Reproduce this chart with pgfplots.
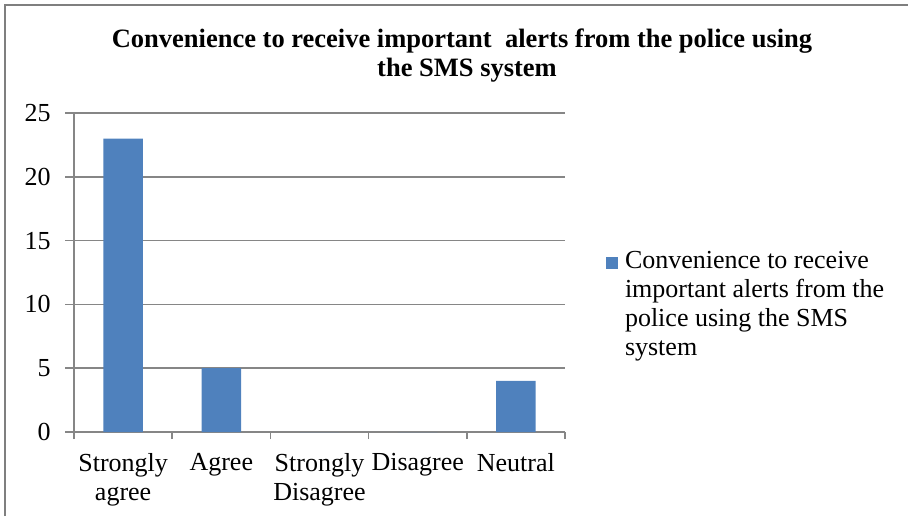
\documentclass[border=0pt]{standalone}
\usepackage{fontspec}
\setmainfont{Liberation Serif}
\usepackage{pgfplots}
\pgfplotsset{compat=1.18}
\definecolor{barblue}{HTML}{4F81BD}
\definecolor{gridgray}{HTML}{868686}
\definecolor{framegray}{HTML}{7F7F7F}
\begin{document}
\begin{tikzpicture}
\path[use as bounding box] (0pt,0pt) rectangle (454pt,-258pt);
\draw[framegray, line width=1pt] (2.5pt,-258pt) -- (2.5pt,-2.5pt) -- (454pt,-2.5pt);
\node[anchor=base, font=\fontsize{13.25pt}{14.5pt}\selectfont\bfseries, inner sep=0pt] at (231pt,-23.85pt) {Convenience to receive important\ \ alerts from the police using};
\node[anchor=base, font=\fontsize{13.25pt}{14.5pt}\selectfont\bfseries, inner sep=0pt] at (233.5pt,-38.3pt) {the SMS system};
\begin{axis}[
  at={(37pt,-216pt)}, anchor=south west,
  width=245.5pt, height=159.5pt, scale only axis,
  xmin=-0.5, xmax=4.5, ymin=0, ymax=25,
  axis lines*=left,
  axis line style={gridgray, line width=0.75pt},
  ytick={0,5,10,15,20,25},
  ymajorgrids, grid style={gridgray, line width=0.75pt},
  tick align=outside,
  major tick length=4.5pt,
  ytick style={gridgray, line width=0.75pt},
  /pgf/number format/assume math mode=true,
  ticklabel style={font=\fontsize{13pt}{14.5pt}\selectfont},
  yticklabel style={anchor=east, inner sep=0pt, xshift=-7pt},
  xtick={0,1,2,3,4},
  xticklabels={{Strongly\\agree},Agree,{Strongly\\Disagree},Disagree,Neutral},
  xticklabel style={align=center, anchor=north, inner sep=0pt, yshift=-6pt},
  major x tick style={draw=none},
  extra x ticks={-0.5,0.5,1.5,2.5,3.5,4.5},
  extra x tick labels={},
  extra x tick style={major x tick style={draw=gridgray, line width=0.75pt}, major tick length=3.5pt, grid=none},
  ybar, bar width=19.75pt,
  legend style={draw=none, fill=none, inner sep=0pt, outer sep=0pt,
    at={(axis description cs:1.0835,0.565)}, anchor=north west,
    cells={anchor=base west}, nodes={inner sep=0pt}, column sep=3.5pt,
    font=\fontsize{13pt}{14.5pt}\selectfont},
  legend image code/.code={\fill[barblue] (0pt,0pt) rectangle (6pt,6pt);},
]
\addplot[fill=barblue, draw=none] coordinates {(0,23) (1,5) (2,0) (3,0) (4,4)};
\addlegendentry{\parbox[t]{150pt}{\raggedright Convenience to receive\\important alerts from the\\police using the SMS\\system}}
\end{axis}
\end{tikzpicture}
\end{document}
